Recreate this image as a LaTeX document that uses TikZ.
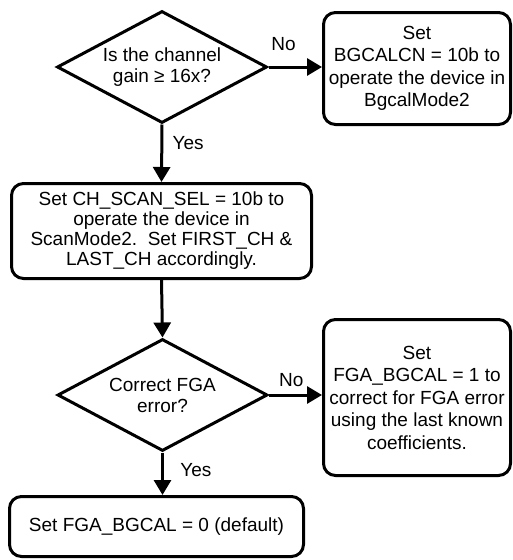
\documentclass[tikz,border=0pt]{standalone}
\usepackage{fontspec}
\setmainfont{Liberation Sans}
\usetikzlibrary{arrows.meta,shapes.geometric}

\begin{document}
\begin{tikzpicture}[x=1pt,y=-1pt,font=\fontsize{19}{22.5}\selectfont,line width=3pt,
  decision/.style={draw,diamond,aspect=2,inner sep=0pt,minimum width=210pt,minimum height=112pt,align=center,font=\fontsize{19}{21}\selectfont},
  action/.style={draw,rounded corners=12pt,inner sep=0pt,align=center},
  flow/.style={-{Triangle[length=15pt,width=17pt]}}]
\useasboundingbox (0,0) rectangle (513,560);
% decisions
\node[decision] (gain) at (162,67) {Is the channel\\gain ≥ 16x?};
\node[decision] (fga) at (162.5,395) {Correct FGA\\error?};
% actions
\node[action,minimum width=187pt,minimum height=112pt] (bgcal) at (417,68.5) {Set\\BGCALCN = 10b to\\operate the device in\\BgcalMode2};
\node[action,minimum width=300pt,minimum height=95pt,font=\fontsize{19}{20}\selectfont] (scan) at (161.5,231) {Set CH\_SCAN\_SEL = 10b to\\operate the device in\\ScanMode2.\ \ Set FIRST\_CH \&\\LAST\_CH accordingly.};
\node[action,minimum width=187pt,minimum height=156pt] (fgaon) at (417,397.5) {Set\\FGA\_BGCAL = 1 to\\correct for FGA error\\using the last known\\coefficients.};
\node[action,minimum width=294pt,minimum height=60pt] (fgaoff) at (156.5,526.5) {Set FGA\_BGCAL = 0 (default)};
% connectors
\draw[flow] (gain.east) -- (gain.east -| bgcal.west) node[pos=0.28,above=11pt] (no1) {No};
\draw[flow] (gain.south) -- (scan.north) node[pos=0.32,right=6pt] (yes1) {Yes};
\draw[flow] (scan.south) -- (fga.north);
\draw[flow] (fga.east) -- (fga.east -| fgaon.west) node[pos=0.42,above=3pt] (no2) {No};
\draw[flow] (fga.south) -- (fga.south |- fgaoff.north) node[pos=0.42,right=13pt] (yes2) {Yes};
\end{tikzpicture}
\end{document}
